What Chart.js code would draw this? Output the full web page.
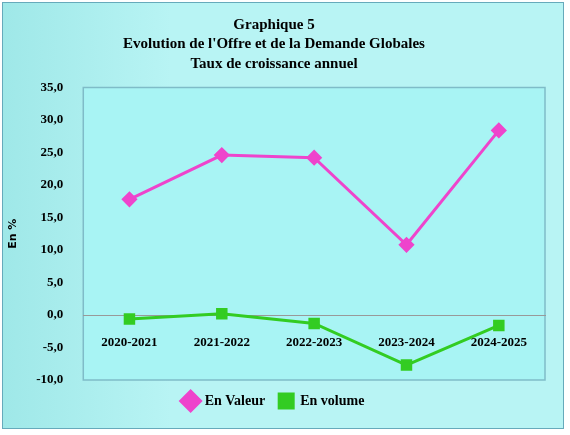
<!DOCTYPE html>
<html><head><meta charset="utf-8">
<script src="https://cdn.jsdelivr.net/npm/chart.js@4"></script>
<style>
body{margin:0;background:#fff}
#box{position:absolute;left:2px;top:2px;width:562px;height:427px;border:1px solid #6ab;background:linear-gradient(90deg,#9fe8e8,#b8f4f4 30%,#b8f4f4);box-sizing:border-box}
</style></head><body>
<div id="box"><canvas id="c" width="560" height="425"></canvas></div>
<script>
const categories = ['2020-2021','2021-2022','2022-2023','2023-2024','2024-2025'];
const valeur = [17.8, 24.6, 24.2, 10.8, 28.4];
const volume = [-0.6, 0.2, -1.3, -7.7, -1.6];

// plot area background + frame
const plotBg = {
    id: 'plotBg',
    beforeDraw(chart) {
        const a = chart.chartArea, ctx = chart.ctx;
        ctx.save();
        ctx.fillStyle = '#a8f4f4';
        ctx.fillRect(a.left, a.top, a.right - a.left, a.bottom - a.top);
        ctx.strokeStyle = '#7fbcc8';
        ctx.lineWidth = 1.5;
        ctx.strokeRect(a.left, a.top, a.right - a.left, a.bottom - a.top);
        ctx.restore();
    }
};

new Chart(document.getElementById('c'), {
    type: 'line',
    data: {
        labels: categories,
        datasets: [
            { label: 'En Valeur', data: valeur, borderColor: '#ee44cc', backgroundColor: '#ee44cc',
              borderWidth: 3, pointStyle: 'rectRot', pointRadius: 6 },
            { label: 'En volume', data: volume, borderColor: '#33cc22', backgroundColor: '#33cc22',
              borderWidth: 3, pointStyle: 'rect', pointRadius: 6 }
        ]
    },
    options: {
        responsive: false,
        animation: false,
        layout: { padding: { left: 0, right: 18, top: 4, bottom: 10 } },
        plugins: {
            title: { display: true, text: ['Graphique 5', "Evolution de l'Offre et de la Demande Globales", 'Taux de croissance annuel'],
                     color: '#000', font: { family: 'Liberation Serif', size: 15, weight: 'bold', lineHeight: 1.3 }, padding: { top: 8, bottom: 14 } },
            legend: { position: 'bottom', labels: { usePointStyle: true, color: '#000', boxWidth: 40,
                      font: { family: 'Liberation Serif', size: 14, weight: 'bold' }, padding: 14 } }
        },
        scales: {
            x: { position: { y: 0 }, offset: true,
                 grid: { display: false }, border: { color: '#999' },
                 ticks: { color: '#000', padding: 12, font: { family: 'Liberation Serif', size: 13, weight: 'bold' } } },
            y: { min: -10, max: 35, grid: { display: false }, border: { display: false },
                 title: { display: true, text: 'En %', color: '#000', font: { family: 'DejaVu Sans', size: 11, weight: 'bold' } },
                 ticks: { stepSize: 5, color: '#000', padding: 12, font: { family: 'Liberation Serif', size: 13, weight: 'bold' },
                          callback: v => v.toFixed(1).replace('.', ',') } }
        }
    },
    plugins: [plotBg]
});
</script>
</body></html>
